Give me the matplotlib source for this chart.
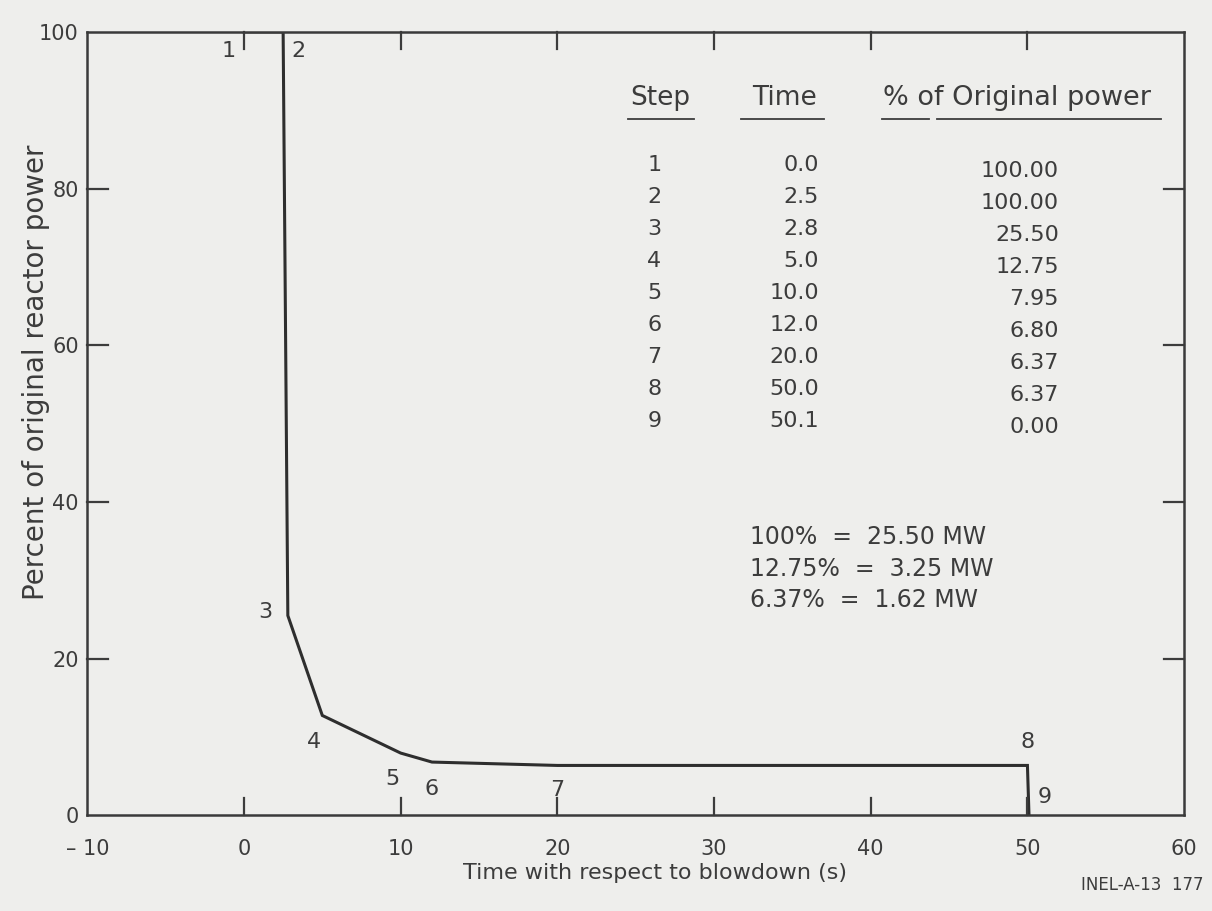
import matplotlib
matplotlib.use("Agg")
import matplotlib.pyplot as plt

# Data
steps = ["1", "2", "3", "4", "5", "6", "7", "8", "9"]
times = [0.0, 2.5, 2.8, 5.0, 10.0, 12.0, 20.0, 50.0, 50.1]
power = [100.00, 100.00, 25.50, 12.75, 7.95, 6.80, 6.37, 6.37, 0.00]
time_labels = ["0.0", "2.5", "2.8", "5.0", "10.0", "12.0", "20.0", "50.0", "50.1"]
power_labels = ["100.00", "100.00", "25.50", "12.75", "7.95", "6.80", "6.37", "6.37", "0.00"]
x_ticks = [-10, 0, 10, 20, 30, 40, 50, 60]
x_ticklabels = ["\u2013 10", "0", "10", "20", "30", "40", "50", "60"]
y_ticks = [0, 20, 40, 60, 80, 100]
y_ticklabels = ["0", "20", "40", "60", "80", "100"]
notes = ["100%  =  25.50 MW", "12.75%  =  3.25 MW", "6.37%  =  1.62 MW"]

BG = "#eeeeec"
INK = "#3c3c3c"
plt.rcParams['font.family'] = ['DejaVu Sans']

fig = plt.figure(figsize=(12.12, 9.11), dpi=100, facecolor=BG)
ax = fig.add_axes([0.072, 0.105, 0.905, 0.86], facecolor=BG)

ax.plot(times, power, color="#2e2e2e", lw=2.2, solid_joinstyle="miter")

ax.set_xlim(-10, 60)
ax.set_ylim(0, 100)
ax.set_xticks(x_ticks)
ax.set_xticklabels(x_ticklabels)
ax.set_yticks(y_ticks)
ax.set_yticklabels(y_ticklabels)
for s in ax.spines.values():
    s.set_color("#3a3a3a")
    s.set_linewidth(1.8)

ax.tick_params(axis="x", which="major", direction="in", length=0,
               labelsize=15, labelcolor=INK, pad=17)
ax.tick_params(axis="y", which="major", direction="in", length=0,
               labelsize=15, labelcolor=INK, pad=6)

# inward ticks (interior only)
for xt in x_ticks[1:-1]:
    ax.plot([xt, xt], [0, 2.2], color=INK, lw=1.6, clip_on=False)
    ax.plot([xt, xt], [100, 97.8], color=INK, lw=1.6, clip_on=False)
for yt in y_ticks[1:-1]:
    ax.plot([-10, -8.65], [yt, yt], color=INK, lw=1.6, clip_on=False)
    ax.plot([60, 58.7], [yt, yt], color=INK, lw=1.6, clip_on=False)

ax.set_xlabel("Time with respect to blowdown (s)", fontsize=16, color=INK, labelpad=3)
ax.xaxis.label.set_x(0.518)
ax.set_ylabel("Percent of original reactor power", fontsize=20, color=INK)
ax.yaxis.set_label_coords(-0.034, 0.565)

# point labels
fs_pt = 16
offsets = [(-0.5, 97.6, "right"), (3.0, 97.6, "left"), (1.8, 26.0, "right"),
           (4.5, 9.3, "center"), (9.5, 4.7, "center"), (12.0, 3.4, "center"),
           (20.0, 3.2, "center"), (50.0, 9.4, "center"), (51.1, 2.4, "center")]
for lab, (tx, ty, ha) in zip(steps, offsets):
    ax.text(tx, ty, lab, fontsize=fs_pt, color=INK, ha=ha, va="center")

# table header
hy = 91.6
ax.text(26.6, hy, "Step", fontsize=19, color=INK, ha="center", va="center")
ax.text(34.5, hy, "Time", fontsize=19, color=INK, ha="center", va="center")
ax.text(40.8, hy, "% of Original power", fontsize=19.5, color=INK, ha="left", va="center")
uy = 88.9
for x0, x1 in [(24.5, 28.7), (31.7, 37.0), (40.7, 43.7), (44.2, 58.5)]:
    ax.plot([x0, x1], [uy, uy], color=INK, lw=1.3)

# table rows
y0 = 83.0
dy = 4.09
for i, (s, t, p) in enumerate(zip(steps, time_labels, power_labels)):
    yy = y0 - i * dy
    ax.text(26.2, yy, s, fontsize=16, color=INK, ha="center", va="center")
    ax.text(36.7, yy, t, fontsize=16, color=INK, ha="right", va="center")
    ax.text(52.0, yy - 0.7, p, fontsize=16, color=INK, ha="right", va="center")

# notes
for i, n in enumerate(notes):
    ax.text(32.3, 35.5 - i * 4.0, n, fontsize=17, color=INK, ha="left", va="center")

fig.text(0.993, 0.028, "INEL-A-13  177", fontsize=12, color=INK, ha="right", va="center")

fig.savefig("out.png", dpi=100, facecolor=BG)
